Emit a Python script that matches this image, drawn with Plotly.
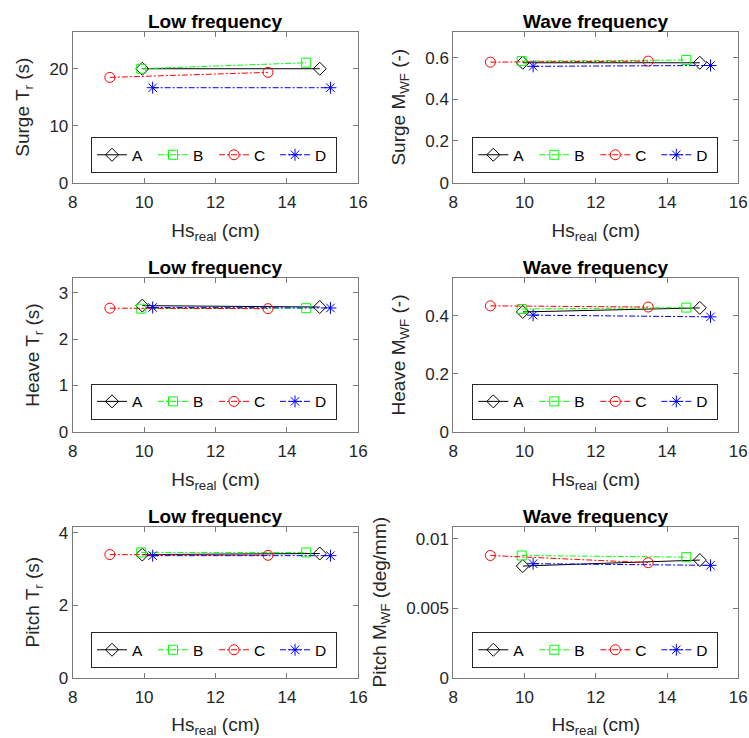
import plotly.graph_objects as go

# ---------------- data ----------------
series = ["A", "B", "C", "D"]
hs_real = [[9.95, 14.92], [9.92, 14.54], [9.04, 13.47], [10.24, 15.22]]

surge_tr = [[20.0, 20.0], [20.0, 21.05], [18.48, 19.36], [16.67, 16.67]]
surge_mwf = [[0.575, 0.575], [0.583, 0.588], [0.578, 0.583], [0.558, 0.562]]
heave_tr = [[2.72, 2.69], [2.655, 2.665], [2.665, 2.655], [2.68, 2.67]]
heave_mwf = [[0.413, 0.427], [0.423, 0.428], [0.434, 0.430], [0.402, 0.396]]
pitch_tr = [[3.40, 3.43], [3.46, 3.46], [3.40, 3.38], [3.37, 3.37]]
pitch_mwf = [[0.00803, 0.00846], [0.00879, 0.00867], [0.00879, 0.00827], [0.00820, 0.00808]]

panel_titles = ["Low frequency", "Wave frequency"] * 3
y_titles = ["Surge T<sub>r</sub> (s)", "Surge M<sub>WF</sub> (-)",
            "Heave T<sub>r</sub> (s)", "Heave M<sub>WF</sub> (-)",
            "Pitch T<sub>r</sub> (s)", "Pitch M<sub>WF</sub> (deg/mm)"]
x_title = "Hs<sub>real</sub> (cm)"
x_ticks = [8, 10, 12, 14, 16]
y_ticks = [[0, 10, 20], [0, 0.2, 0.4, 0.6], [0, 1, 2, 3], [0, 0.2, 0.4],
           [0, 2, 4], [0, 0.005, 0.01]]
panels = [surge_tr, surge_mwf, heave_tr, heave_mwf, pitch_tr, pitch_mwf]

# ---------------- styles ----------------
W, H = 749, 738
colors = ["#000000", "#00FF00", "#FF0000", "#0000FF"]
symbols = ["diamond-open", "square-open", "circle-open", "asterisk-open"]
sizes = [10, 9, 10, 10]
dashes = ["solid", "6px,2px,2px,2px", "6px,2px,2px,2px", "6px,2px,2px,2px"]

x_ranges = [8, 16]
y_ranges = [[0, 26.5], [0, 0.724], [0, 3.31], [0, 0.529], [0, 4.17], [0, 0.01086]]

col_px = [(72.7, 358.3), (453.3, 738.3)]
row_px = [(31.7, 182.7), (278.3, 431.7), (526.7, 677.7)]

FONT = "Liberation Sans, Arial, Helvetica, sans-serif"
AXC = "#7a7a7a"
TXT = "#262626"

fig = go.Figure()
layout = dict(
    width=W, height=H, margin=dict(l=0, r=0, t=0, b=0),
    paper_bgcolor="white", plot_bgcolor="white",
    font=dict(family=FONT, color=TXT, size=17),
    annotations=[],
)

for k in range(6):
    r, c = divmod(k, 2)
    xname = "x" if k == 0 else f"x{k+1}"
    yname = "y" if k == 0 else f"y{k+1}"
    lname = "legend" if k == 0 else f"legend{k+1}"
    x0, x1 = col_px[c]
    top, bot = row_px[r]
    xd = [x0 / W, x1 / W]
    yd = [1 - bot / H, 1 - top / H]

    for i, s in enumerate(series):
        fig.add_trace(go.Scatter(
            x=hs_real[i], y=panels[k][i], name=s, mode="lines+markers",
            line=dict(color=colors[i], width=1, dash=dashes[i]),
            marker=dict(symbol=symbols[i], size=sizes[i], color=colors[i],
                        line=dict(width=1, color=colors[i])),
            xaxis=xname, yaxis=yname, legend=lname, showlegend=True,
        ))

    axkey_x = "xaxis" if k == 0 else f"xaxis{k+1}"
    axkey_y = "yaxis" if k == 0 else f"yaxis{k+1}"
    common = dict(showline=True, linecolor=AXC, linewidth=1, mirror="ticks",
                  ticks="inside", ticklen=5, tickwidth=1, tickcolor=AXC,
                  showgrid=False, zeroline=False, automargin=False,
                  tickfont=dict(size=17, color=TXT, family=FONT))
    layout[axkey_x] = dict(common, domain=xd, range=x_ranges, tickvals=x_ticks,
                           anchor=yname, ticklabelstandoff=4,
                           title=dict(text=x_title, font=dict(size=19, color=TXT),
                                      standoff=12))
    layout[axkey_y] = dict(common, domain=yd, range=y_ranges[k], tickvals=y_ticks[k],
                           anchor=xname,
                           title=dict(text=y_titles[k], font=dict(size=19, color=TXT),
                                      standoff=14))
    layout[lname] = dict(
        orientation="h", x=(x0 + (18.3 if c == 0 else 19.0)) / W,
        y=1 - (top + 105.5) / H, xanchor="left", yanchor="top",
        bordercolor="#262626", borderwidth=1, bgcolor="white",
        font=dict(size=15.5, color="#000000", family=FONT),
        entrywidth=16, entrywidthmode="pixels", tracegroupgap=0,
    )
    layout["annotations"].append(dict(
        text=f"<b>{panel_titles[k]}</b>", x=(xd[0] + xd[1]) / 2, y=yd[1],
        xref="paper", yref="paper", xanchor="center", yanchor="bottom",
        yshift=-2, showarrow=False,
        font=dict(size=19, color="#000000", family=FONT),
    ))

fig.update_layout(**layout)
fig.write_html(
    "out.html",
    config={"displayModeBar": False},
    post_script="document.body.style.margin='0';document.body.style.overflow='hidden';",
)
